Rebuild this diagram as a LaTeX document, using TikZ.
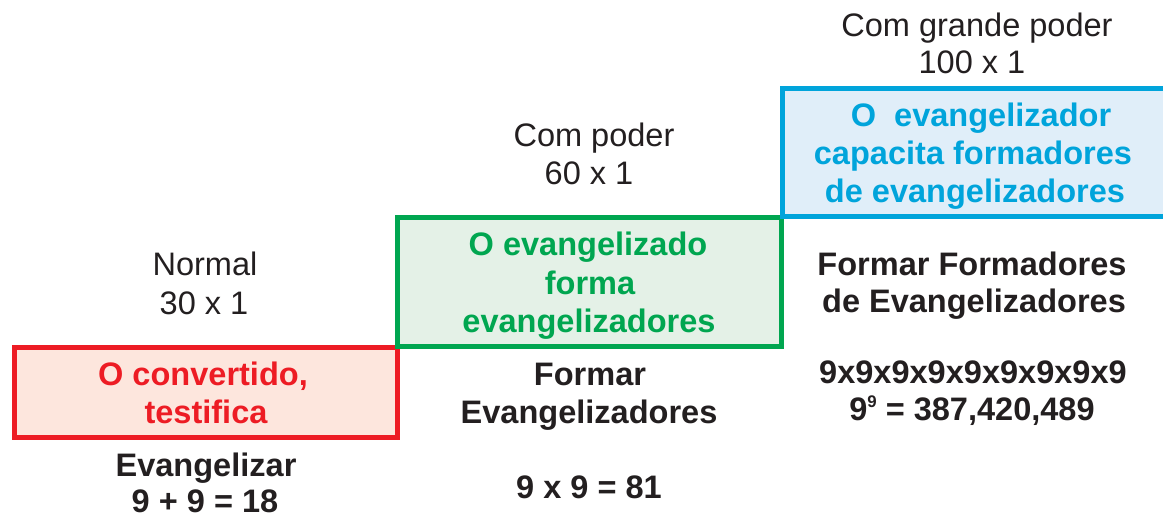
\documentclass[tikz,border=0pt]{standalone}
\usepackage{fontspec}
\setmainfont{Liberation Sans}
\definecolor{txt}{HTML}{231F20}
\definecolor{rline}{HTML}{ED1C24}
\definecolor{rfill}{HTML}{FDE6DD}
\definecolor{gline}{HTML}{00A650}
\definecolor{gfill}{HTML}{E4F1E7}
\definecolor{bline}{HTML}{00A4DB}
\definecolor{bfill}{HTML}{E0EEF9}
\begin{document}
\begin{tikzpicture}[x=0.75pt,y=-0.75pt,
  lbl/.style={anchor=base,inner sep=0pt,font=\fontsize{24.4}{28}\selectfont,text=txt},
  blbl/.style={lbl,font=\fontsize{24.4}{28}\selectfont\bfseries},
  rtxt/.style={blbl,text=rline},
  gtxt/.style={blbl,text=gline},
  btxt/.style={blbl,text=bline},
  stage/.style={line width=3.75pt}]
\useasboundingbox (0,0) rectangle (1163,517);
% boxes
\draw[stage,draw=rline,fill=rfill] (14,347.5) rectangle (397.5,437.5);
\draw[stage,draw=gline,fill=gfill] (397.5,217.5) rectangle (781.5,346.5);
\draw[stage,draw=bline,fill=bfill] (1170,89) -- (782,89) -- (782,216) -- (1170,216);
% headers
\node[lbl] (h1a) at (205,275) {Normal};
\node[lbl] (h1b) at (204,314) {30 x 1};
\node[lbl] (h2a) at (594,146) {Com poder};
\node[lbl] (h2b) at (589,184) {60 x 1};
\node[lbl] (h3a) at (977,37) {Com grande poder};
\node[lbl] (h3b) at (972,74) {100 x 1};
% box texts
\node[rtxt] (r1) at (203,385) {O convertido,};
\node[rtxt] (r2) at (206,423) {testifica};
\node[gtxt] (g1) at (588,255) {O evangelizado};
\node[gtxt] (g2) at (590,294) {forma};
\node[gtxt] (g3) at (589,332) {evangelizadores};
\node[btxt] (b1) at (981,127) {O\ \ evangelizador};
\node[btxt] (b2) at (973,164) {capacita formadores};
\node[btxt] (b3) at (975,202) {de evangelizadores};
% below texts
\node[blbl] (e1) at (206,476) {Evangelizar};
\node[blbl] (e2) at (205,512) {9 + 9 = 18};
\node[blbl] (f1) at (590,385) {Formar};
\node[blbl] (f2) at (589,423) {Evangelizadores};
\node[blbl] (f3) at (589,498) {9 x 9 = 81};
\node[blbl] (k1) at (972,275) {Formar Formadores};
\node[blbl] (k2) at (974,312) {de Evangelizadores};
\node[blbl] (k3) at (973,383) {9x9x9x9x9x9x9x9x9};
\node[blbl] (k4) at (972,420) {9\raisebox{9.6pt}{\fontsize{12.6}{12.6}\selectfont\bfseries 9} = 387,420,489};
\end{tikzpicture}
\end{document}
